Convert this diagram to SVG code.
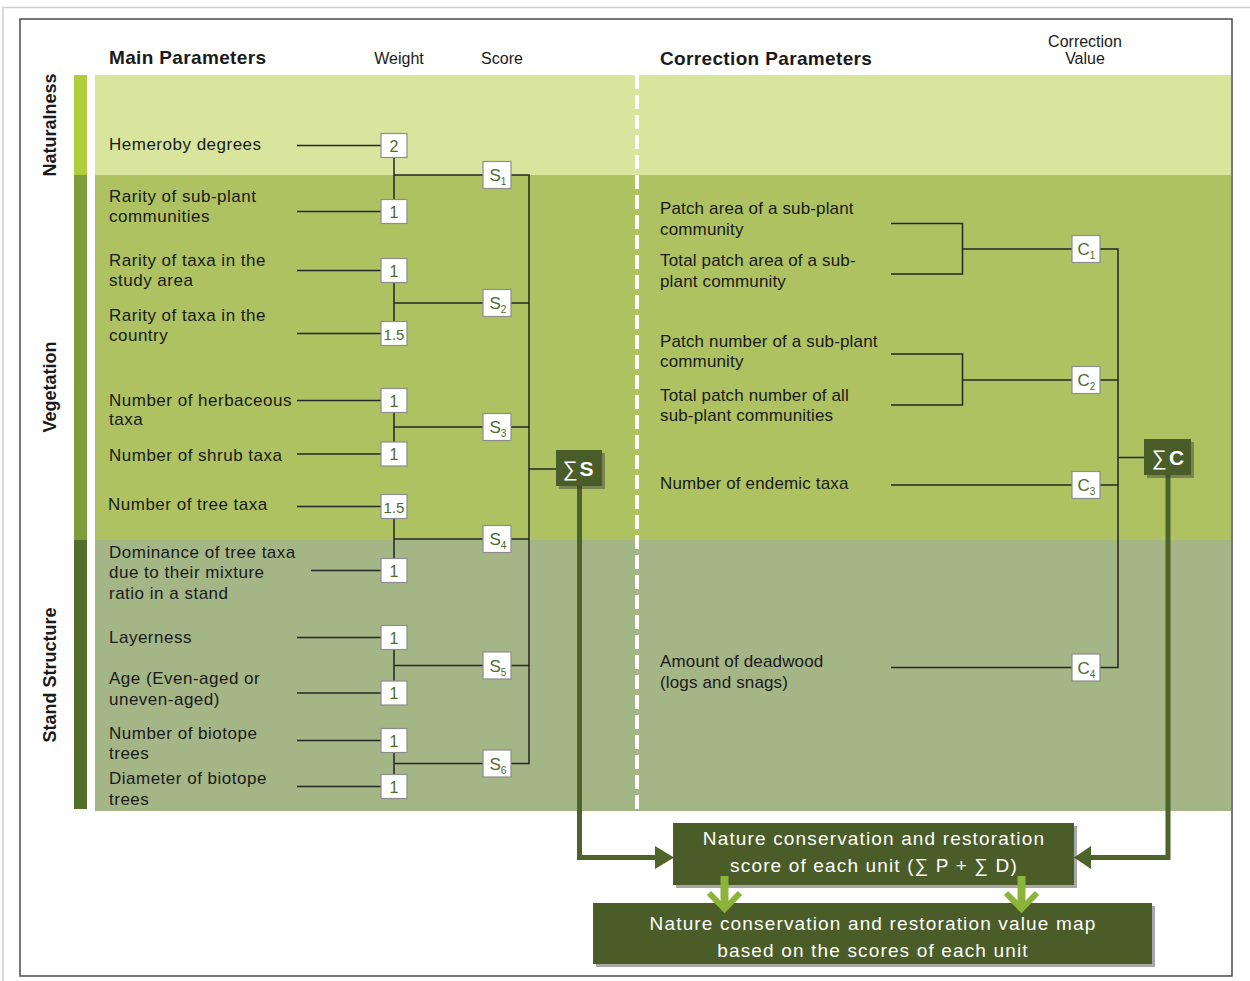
<svg xmlns="http://www.w3.org/2000/svg" width="1250" height="981" viewBox="0 0 1250 981">
<defs>
<style>
text{font-family:"Liberation Sans",Arial,sans-serif;fill:#1a1a1a}
.lbl{font-size:17px;letter-spacing:0.5px}
.rlbl{font-size:17px;letter-spacing:0.15px}
.hdr{font-size:19px;font-weight:bold;letter-spacing:0.35px}
.col{font-size:16px}
.side{font-size:18px;font-weight:bold}
.wbox{fill:#fff;stroke:#8c8c8c;stroke-width:1.2}
.wtxt{font-size:16px;fill:#4d6b2a;text-anchor:middle}
.stxt{font-size:17px;fill:#4d6b2a}
.sub{font-size:10px;fill:#4d6b2a}
.conn{stroke:#262626;stroke-width:1.5;fill:none}
.thick{stroke:#4d6329;stroke-width:5;fill:none}
.dark{fill:#4a5d28}
.shadow{fill:#3a3a3a;opacity:0.45}
.btxt{font-size:19px;fill:#fff;letter-spacing:1.15px;text-anchor:middle}
.sig{font-size:21px;fill:#fff;text-anchor:middle}
.chev{stroke:#8cb33a;stroke-width:6;fill:none}
</style>
</defs>
<rect width="1250" height="981" fill="#fff"/>
<path d="M3,981 V7.5 H1250" stroke="#cfcfcf" stroke-width="1.5" fill="none"/>
<rect x="20" y="19" width="1212" height="957" fill="none" stroke="#4a4a4a" stroke-width="1.5"/>

<g id="bands">
<rect x="95" y="75" width="1136" height="100" fill="#d9e49d"/>
<rect x="95" y="175" width="1136" height="365" fill="#aec262"/>
<rect x="95" y="540" width="1136" height="271" fill="#a4b586"/>
<rect x="74" y="75" width="13" height="100" fill="#b3cc3c"/>
<rect x="74" y="175" width="13" height="365" fill="#7e9e3a"/>
<rect x="74" y="540" width="13" height="269" fill="#546e2e"/>
<line x1="637" y1="75" x2="637" y2="811" stroke="#fff" stroke-width="4" stroke-dasharray="14 6"/>
</g>

<g id="headers">
<text class="hdr" x="109" y="64">Main Parameters</text>
<text class="col" x="399" y="64" text-anchor="middle">Weight</text>
<text class="col" x="502" y="64" text-anchor="middle">Score</text>
<text class="hdr" x="660" y="65">Correction Parameters</text>
<text class="col" x="1085" y="47" text-anchor="middle">Correction</text>
<text class="col" x="1085" y="64" text-anchor="middle">Value</text>
<text class="side" transform="translate(56,125) rotate(-90)" text-anchor="middle">Naturalness</text>
<text class="side" transform="translate(56,387) rotate(-90)" text-anchor="middle">Vegetation</text>
<text class="side" transform="translate(56,675) rotate(-90)" text-anchor="middle">Stand Structure</text>
</g>

<g id="connectors">
<line class="conn" x1="297" y1="145.5" x2="381" y2="145.5"/>
<line class="conn" x1="297" y1="211.5" x2="381" y2="211.5"/>
<line class="conn" x1="297" y1="270.5" x2="381" y2="270.5"/>
<line class="conn" x1="297" y1="333.5" x2="381" y2="333.5"/>
<line class="conn" x1="297" y1="400.5" x2="381" y2="400.5"/>
<line class="conn" x1="297" y1="454" x2="381" y2="454"/>
<line class="conn" x1="297" y1="506.5" x2="381" y2="506.5"/>
<line class="conn" x1="311" y1="570.5" x2="381" y2="570.5"/>
<line class="conn" x1="297" y1="637.5" x2="381" y2="637.5"/>
<line class="conn" x1="297" y1="693" x2="381" y2="693"/>
<line class="conn" x1="297" y1="740.5" x2="381" y2="740.5"/>
<line class="conn" x1="297" y1="786.5" x2="381" y2="786.5"/>
<path class="conn" d="M394,145.5 V211.5 M394,175 H483"/>
<path class="conn" d="M394,270.5 V333.5 M394,303 H483"/>
<path class="conn" d="M394,400.5 V454 M394,427 H483"/>
<path class="conn" d="M394,506.5 V570.5 M394,539 H483"/>
<path class="conn" d="M394,637.5 V693 M394,665.5 H483"/>
<path class="conn" d="M394,740.5 V786.5 M394,763.5 H483"/>
<path class="conn" d="M511,175 H529 V763.5 H511 M511,303 H529 M511,427 H529 M511,539 H529 M511,665.5 H529 M529,469 H556"/>
<path class="conn" d="M891,223.5 H962.5 V274 H891 M962.5,249 H1072"/>
<path class="conn" d="M891,354 H962.5 V405 H891 M962.5,380 H1072"/>
<path class="conn" d="M891,485 H1072"/>
<path class="conn" d="M891,667.5 H1072"/>
<path class="conn" d="M1100,249 H1118 V667.5 H1100 M1100,380 H1118 M1100,485 H1118 M1118,457.5 H1144"/>
<path class="thick" d="M579.5,486 V857.5 H657"/>
<polygon points="655,846 674,857.5 655,869" fill="#4d6329"/>
<path class="thick" d="M1168,475 V857.5 H1089"/>
<polygon points="1091,846 1074,857.5 1091,869" fill="#4d6329"/>
</g>

<g id="main-labels">
<text class="lbl" x="109" y="150">Hemeroby degrees</text>
<text class="lbl" x="109" y="201.5">Rarity of sub-plant</text>
<text class="lbl" x="109" y="222">communities</text>
<text class="lbl" x="109" y="265.5">Rarity of taxa in the</text>
<text class="lbl" x="109" y="286">study area</text>
<text class="lbl" x="109" y="320.5">Rarity of taxa in the</text>
<text class="lbl" x="109" y="341">country</text>
<text class="lbl" x="109" y="405.5">Number of herbaceous</text>
<text class="lbl" x="109" y="425">taxa</text>
<text class="lbl" x="109" y="460.5">Number of shrub taxa</text>
<text class="lbl" x="108" y="510">Number of tree taxa</text>
<text class="lbl" x="109" y="557.5">Dominance of tree taxa</text>
<text class="lbl" x="109" y="578">due to their mixture</text>
<text class="lbl" x="109" y="598.5">ratio in a stand</text>
<text class="lbl" x="109" y="642.5">Layerness</text>
<text class="lbl" x="109" y="684">Age (Even-aged or</text>
<text class="lbl" x="109" y="704.5">uneven-aged)</text>
<text class="lbl" x="109" y="738.5">Number of biotope</text>
<text class="lbl" x="109" y="759">trees</text>
<text class="lbl" x="109" y="784">Diameter of biotope</text>
<text class="lbl" x="109" y="804.5">trees</text>
</g>

<g id="weights">
<rect class="wbox" x="381" y="133.5" width="26" height="24"/><text class="wtxt" x="394" y="151.5">2</text>
<rect class="wbox" x="381" y="199.5" width="26" height="24"/><text class="wtxt" x="394" y="217.5">1</text>
<rect class="wbox" x="381" y="258.5" width="26" height="24"/><text class="wtxt" x="394" y="276.5">1</text>
<rect class="wbox" x="381" y="321.5" width="26" height="24"/><text class="wtxt" x="394" y="339.5" style="font-size:15px">1.5</text>
<rect class="wbox" x="381" y="388.5" width="26" height="24"/><text class="wtxt" x="394" y="406.5">1</text>
<rect class="wbox" x="381" y="442" width="26" height="24"/><text class="wtxt" x="394" y="460">1</text>
<rect class="wbox" x="381" y="494.5" width="26" height="24"/><text class="wtxt" x="394" y="512.5" style="font-size:15px">1.5</text>
<rect class="wbox" x="381" y="558.5" width="26" height="24"/><text class="wtxt" x="394" y="576.5">1</text>
<rect class="wbox" x="381" y="625.5" width="26" height="24"/><text class="wtxt" x="394" y="643.5">1</text>
<rect class="wbox" x="381" y="681" width="26" height="24"/><text class="wtxt" x="394" y="699">1</text>
<rect class="wbox" x="381" y="728.5" width="26" height="24"/><text class="wtxt" x="394" y="746.5">1</text>
<rect class="wbox" x="381" y="774.5" width="26" height="24"/><text class="wtxt" x="394" y="792.5">1</text>
</g>

<g id="scores">
<rect class="wbox" x="483" y="161.5" width="28" height="27"/><text class="stxt" x="489.5" y="181">S<tspan class="sub" dy="4">1</tspan></text>
<rect class="wbox" x="483" y="289.5" width="28" height="27"/><text class="stxt" x="489.5" y="309">S<tspan class="sub" dy="4">2</tspan></text>
<rect class="wbox" x="483" y="413.5" width="28" height="27"/><text class="stxt" x="489.5" y="433">S<tspan class="sub" dy="4">3</tspan></text>
<rect class="wbox" x="483" y="525.5" width="28" height="27"/><text class="stxt" x="489.5" y="545">S<tspan class="sub" dy="4">4</tspan></text>
<rect class="wbox" x="483" y="652" width="28" height="27"/><text class="stxt" x="489.5" y="671.5">S<tspan class="sub" dy="4">5</tspan></text>
<rect class="wbox" x="483" y="750" width="28" height="27"/><text class="stxt" x="489.5" y="769.5">S<tspan class="sub" dy="4">6</tspan></text>
</g>

<g id="sum-s">
<rect class="shadow" x="559" y="453" width="46" height="36"/>
<rect class="dark" x="556" y="450" width="46" height="36"/>
<text class="sig" x="570" y="476">∑</text>
<text class="sig" x="586.5" y="476" style="font-weight:bold">S</text>
</g>

<g id="correction-labels">
<text class="rlbl" x="660" y="214">Patch area of a sub-plant</text>
<text class="rlbl" x="660" y="234.5">community</text>
<text class="rlbl" x="660" y="266">Total patch area of a sub-</text>
<text class="rlbl" x="660" y="286.5">plant community</text>
<text class="rlbl" x="660" y="346.5">Patch number of a sub-plant</text>
<text class="rlbl" x="660" y="367">community</text>
<text class="rlbl" x="660" y="401">Total patch number of all</text>
<text class="rlbl" x="660" y="421">sub-plant communities</text>
<text class="rlbl" x="660" y="489">Number of endemic taxa</text>
<text class="rlbl" x="660" y="667">Amount of deadwood</text>
<text class="rlbl" x="660" y="687.5">(logs and snags)</text>
</g>

<g id="corrections">
<rect class="wbox" x="1072" y="235.5" width="28" height="27"/><text class="stxt" x="1077.5" y="255">C<tspan class="sub" dy="4">1</tspan></text>
<rect class="wbox" x="1072" y="366.5" width="28" height="27"/><text class="stxt" x="1077.5" y="386">C<tspan class="sub" dy="4">2</tspan></text>
<rect class="wbox" x="1072" y="471.5" width="28" height="27"/><text class="stxt" x="1077.5" y="491">C<tspan class="sub" dy="4">3</tspan></text>
<rect class="wbox" x="1072" y="654" width="28" height="27"/><text class="stxt" x="1077.5" y="673.5">C<tspan class="sub" dy="4">4</tspan></text>
</g>

<g id="sum-c">
<rect class="shadow" x="1147" y="442" width="47" height="36"/>
<rect class="dark" x="1144" y="439" width="47" height="36"/>
<text class="sig" x="1159" y="465">∑</text>
<text class="sig" x="1176.5" y="465" style="font-weight:bold">C</text>
</g>

<g id="score-box">
<rect class="shadow" x="676" y="826" width="401" height="62"/>
<rect class="dark" x="673" y="823" width="401" height="62"/>
<text class="btxt" x="874" y="844.5">Nature conservation and restoration</text>
<text class="btxt" x="874" y="872">score of each unit (∑ P + ∑ D)</text>
</g>

<g id="map-box">
<rect class="shadow" x="596" y="906" width="559" height="61"/>
<rect class="dark" x="593" y="903" width="559" height="61"/>
<text class="btxt" x="873" y="930">Nature conservation and restoration value map</text>
<text class="btxt" x="873" y="957">based on the scores of each unit</text>
</g>

<g id="down-arrows">
<line x1="724.5" y1="876" x2="724.5" y2="906" stroke="#8cb33a" stroke-width="8"/>
<polyline class="chev" points="709,893 724.5,909 740,893"/>
<line x1="1021.5" y1="876" x2="1021.5" y2="906" stroke="#8cb33a" stroke-width="8"/>
<polyline class="chev" points="1006,893 1021.5,909 1037,893"/>
</g>
</svg>
